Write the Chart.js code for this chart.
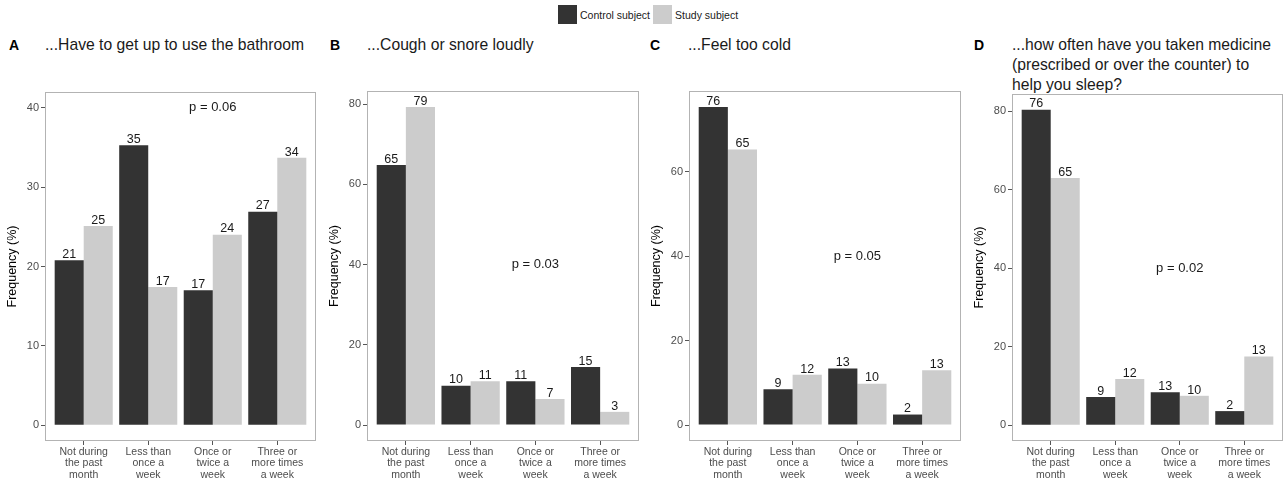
<!DOCTYPE html>
<html>
<head>
<meta charset="utf-8">
<script src="https://cdn.jsdelivr.net/npm/chart.js@4.4.0/dist/chart.umd.min.js"></script>
<style>
  body { margin: 0; background: #fff; font-family: "Liberation Sans", Arial, sans-serif; }
  #wrap { position: relative; width: 1285px; height: 482px; overflow: hidden; }
  .cv { position: absolute; }
  .letter { position: absolute; font-weight: bold; font-size: 14px; color: #000; }
  .title { position: absolute; font-size: 15.7px; line-height: 20px; color: #1a1a1a; }
  .legend { position: absolute; top: 5px; left: 558px; font-size: 10.5px; color: #1a1a1a; display: flex; align-items: center; }
  .legend span.sw { display: inline-block; width: 19px; height: 19px; margin-right: 3px; }
  .legend span.tx { margin-right: 3px; }
</style>
</head>
<body>
<div id="wrap">
  <div class="legend">
    <span class="sw" style="background:#333333"></span><span class="tx">Control subject</span>
    <span class="sw" style="background:#cccccc"></span><span class="tx">Study subject</span>
  </div>
  <div class="letter" style="left:9px;top:37px">A</div>
  <div class="title" style="left:45px;top:35px">...Have to get up to use the bathroom</div>
  <div class="letter" style="left:330px;top:37px">B</div>
  <div class="title" style="left:367px;top:35px">...Cough or snore loudly</div>
  <div class="letter" style="left:650px;top:37px">C</div>
  <div class="title" style="left:688px;top:35px">...Feel too cold</div>
  <div class="letter" style="left:974px;top:37px">D</div>
  <div class="title" style="left:1012px;top:35px">...how often have you taken medicine<br>(prescribed or over the counter) to<br>help you sleep?</div>

  <canvas class="cv" id="cA" style="left:0px;top:90px" width="318" height="392"></canvas>
  <canvas class="cv" id="cB" style="left:322px;top:89px" width="319" height="393"></canvas>
  <canvas class="cv" id="cC" style="left:644px;top:89px" width="319" height="393"></canvas>
  <canvas class="cv" id="cD" style="left:967px;top:92px" width="318" height="390"></canvas>
</div>
<script>
// categories
const categories = [
  ['Not during', 'the past', 'month'],
  ['Less than', 'once a', 'week'],
  ['Once or', 'twice a', 'week'],
  ['Three or', 'more times', 'a week']
];

// bar heights (%)
const controlA = [20.8, 35.3, 17.0, 26.9];
const studyA   = [25.1, 17.4, 24.0, 33.7];
const controlB = [64.8, 9.8, 10.9, 14.5];
const studyB   = [79.3, 10.9, 6.5, 3.3];
const controlC = [75.4, 8.5, 13.4, 2.5];
const studyC   = [65.3, 11.9, 9.8, 13.0];
const controlD = [80.4, 7.2, 8.4, 3.6];
const studyD   = [63.0, 11.8, 7.5, 17.5];

// printed labels above bars
const controlLabelsA = ['21', '35', '17', '27'];
const studyLabelsA   = ['25', '17', '24', '34'];
const controlLabelsB = ['65', '10', '11', '15'];
const studyLabelsB   = ['79', '11', '7', '3'];
const controlLabelsC = ['76', '9', '13', '2'];
const studyLabelsC   = ['65', '12', '10', '13'];
const controlLabelsD = ['76', '9', '13', '2'];
const studyLabelsD   = ['65', '12', '10', '13'];

// y ticks per panel
const yTicksA = [0, 10, 20, 30, 40];
const yTicksB = [0, 20, 40, 60, 80];
const yTicksC = [0, 20, 40, 60];
const yTicksD = [0, 20, 40, 60, 80];

const pValues = ['p = 0.06', 'p = 0.03', 'p = 0.05', 'p = 0.02'];

const FONT = '"Liberation Sans", Arial, sans-serif';

const boxPlugin = {
  id: 'box',
  afterDraw(chart) {
    const a = chart.chartArea, ctx = chart.ctx;
    ctx.save();
    ctx.strokeStyle = '#b3b3b3';
    ctx.lineWidth = 1;
    ctx.strokeRect(Math.round(a.left) + 0.5, Math.round(a.top) + 0.5,
      Math.round(a.right - a.left) - 1, Math.round(a.bottom - a.top) - 1);
    ctx.restore();
  }
};

const labelPlugin = {
  id: 'barLabels',
  afterDatasetsDraw(chart) {
    const ctx = chart.ctx;
    const opts = chart.options.plugins.barLabels;
    ctx.save();
    ctx.font = '12.5px ' + FONT;
    ctx.fillStyle = '#1a1a1a';
    ctx.textAlign = 'center';
    ctx.textBaseline = 'bottom';
    chart.data.datasets.forEach((ds, di) => {
      chart.getDatasetMeta(di).data.forEach((bar, i) => {
        ctx.fillText(ds.labels[i], bar.x, bar.y + 0.5);
      });
    });
    // p value annotation
    const x = chart.scales.x.getPixelForValue(3);
    const y = chart.scales.y.getPixelForValue(40);
    ctx.font = '13px ' + FONT;
    ctx.textBaseline = 'middle';
    ctx.fillText(opts.p, x, y);
    ctx.restore();
  }
};

function makePanel(id, control, study, cLab, sLab, ticks, p) {
  const maxV = Math.max(...control, ...study, 40);
  const pad = maxV * 0.05;
  const toXY = arr => arr.map((v, i) => ({ x: i + 1, y: v }));
  new Chart(document.getElementById(id), {
    type: 'bar',
    data: {
      datasets: [
        { label: 'Control subject', data: toXY(control), labels: cLab, backgroundColor: '#333333', borderWidth: 0 },
        { label: 'Study subject', data: toXY(study), labels: sLab, backgroundColor: '#cccccc', borderWidth: 0 }
      ]
    },
    options: {
      responsive: false,
      animation: false,
      layout: { padding: { top: 2, right: 2, left: 0, bottom: 0 } },
      datasets: { bar: { categoryPercentage: 0.9, barPercentage: 1.0 } },
      plugins: {
        legend: { display: false },
        tooltip: { enabled: false },
        barLabels: { p: p }
      },
      scales: {
        x: {
          type: 'linear',
          offset: false,
          min: 0.4,
          max: 4.6,
          afterBuildTicks: s => { s.ticks = [1, 2, 3, 4].map(v => ({ value: v })); },
          afterFit: s => { s.height = 41; s.paddingLeft = 0; s.paddingRight = 0; },
          ticks: {
            autoSkip: false,
            maxRotation: 0,
            padding: 1,
            color: '#4d4d4d',
            font: { family: FONT, size: 10.5, lineHeight: 1.1 },
            callback: v => categories[v - 1]
          },
          grid: { offset: false, drawOnChartArea: false, drawTicks: true, tickLength: 4, color: '#555555' },
          border: { display: false }
        },
        y: {
          min: -pad,
          max: maxV + pad,
          afterBuildTicks: s => { s.ticks = ticks.map(v => ({ value: v })); },
          afterFit: s => { s.width = 45; s.paddingTop = 0; s.paddingBottom = 0; },
          ticks: {
            padding: 2,
            color: '#4d4d4d',
            font: { family: FONT, size: 11 }
          },
          title: {
            display: true,
            text: 'Frequency (%)',
            color: '#000',
            font: { family: FONT, size: 12.5 },
            padding: { top: 5, bottom: 0 }
          },
          grid: { drawOnChartArea: false, drawTicks: true, tickLength: 4, color: '#555555' },
          border: { display: false }
        }
      }
    },
    plugins: [boxPlugin, labelPlugin]
  });
}

makePanel('cA', controlA, studyA, controlLabelsA, studyLabelsA, yTicksA, pValues[0]);
makePanel('cB', controlB, studyB, controlLabelsB, studyLabelsB, yTicksB, pValues[1]);
makePanel('cC', controlC, studyC, controlLabelsC, studyLabelsC, yTicksC, pValues[2]);
makePanel('cD', controlD, studyD, controlLabelsD, studyLabelsD, yTicksD, pValues[3]);
</script>
</body>
</html>
